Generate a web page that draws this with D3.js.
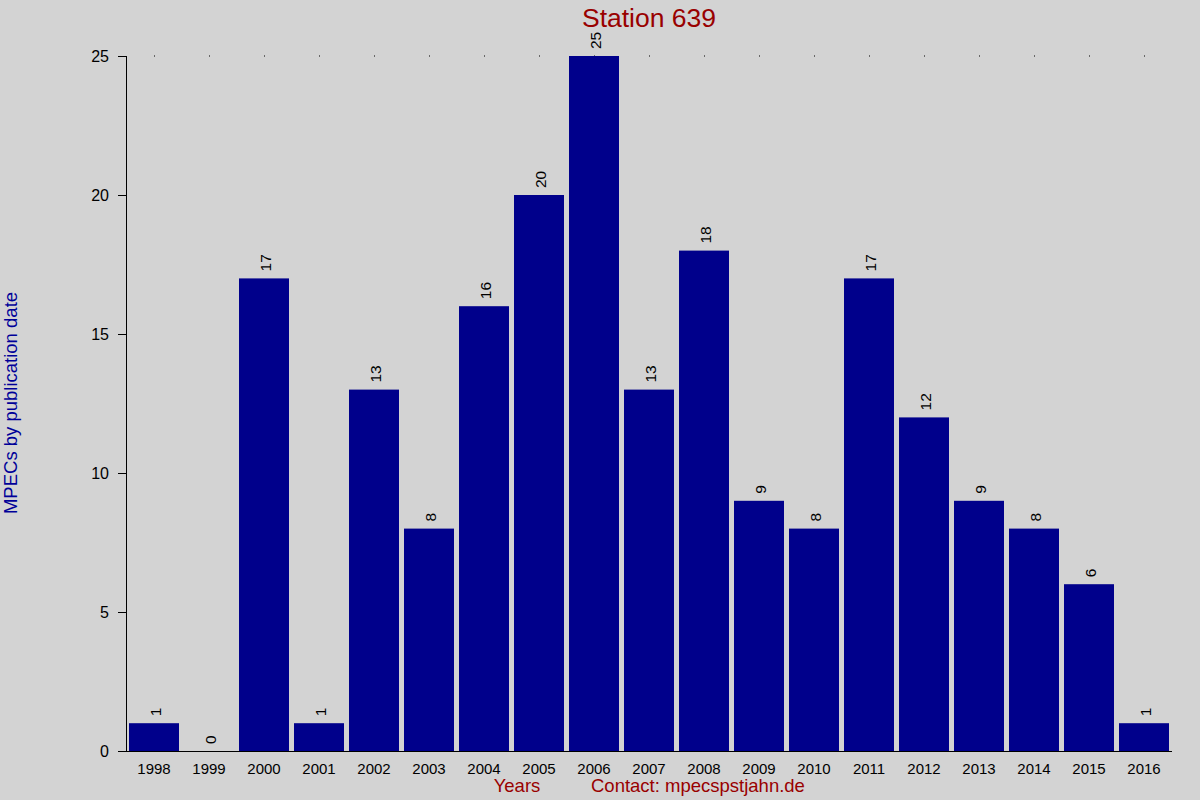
<!DOCTYPE html>
<html>
<head>
<meta charset="utf-8">
<script src="https://cdn.jsdelivr.net/npm/d3@7"></script>
<style>
body { margin: 0; background: #d3d3d3; }
svg { display: block; font-family: "Liberation Sans", Arial, sans-serif; }
</style>
</head>
<body>
<svg></svg>
<script>
var years = ['1998', '1999', '2000', '2001', '2002', '2003', '2004', '2005', '2006', '2007',
	'2008', '2009', '2010', '2011', '2012', '2013', '2014', '2015', '2016'];
var counts = [1, 0, 17, 1, 13, 8, 16, 20, 25, 13, 18, 9, 8, 17, 12, 9, 8, 6, 1];
var yTicks = [0, 5, 10, 15, 20, 25];

var width = 1200;
var height = 800;

var svg = d3.select('svg')
	.attr('width', width)
	.attr('height', height);

svg.append('rect')
	.attr('width', width)
	.attr('height', height)
	.attr('fill', '#d3d3d3');

var x = d3.scaleBand()
	.domain(years)
	.range([126.5, 1171.5])
	.paddingInner(5 / 55)
	.paddingOuter(2.5 / 55);

var y = d3.scaleLinear()
	.domain([0, 25])
	.range([751, 56]);

// dotted marks on the top line
svg.append('g')
	.selectAll('rect')
	.data(years)
	.enter().append('rect')
	.attr('x', function(d) { return Math.round(x(d) + x.bandwidth() / 2); })
	.attr('y', y(25) - 0.5)
	.attr('width', 1)
	.attr('height', 1)
	.attr('fill', '#000');

// bars
svg.append('g')
	.selectAll('rect')
	.data(counts)
	.enter().append('rect')
	.attr('x', function(d, i) { return x(years[i]); })
	.attr('y', function(d) { return y(d); })
	.attr('width', x.bandwidth())
	.attr('height', function(d) { return y(0) - y(d); })
	.attr('fill', '#00008b');

// value labels
svg.append('g')
	.selectAll('text')
	.data(counts)
	.enter().append('text')
	.attr('transform', function(d, i) {
		return `translate(${x(years[i]) + x.bandwidth() / 2 + 7},${y(d) - 7}) rotate(-90)`;
	})
	.attr('font-size', 15.5)
	.attr('fill', '#000')
	.text(function(d) { return d; });

// y axis
var yAxis = d3.axisLeft(y)
	.tickValues(yTicks)
	.tickSize(8)
	.tickPadding(9);

var gy = svg.append('g')
	.attr('transform', 'translate(126,0)')
	.call(yAxis);
gy.select('.domain').attr('d', 'M0.5,56V751.5');
gy.selectAll('.tick line').attr('stroke', '#000');
gy.selectAll('.tick text').attr('font-size', 16).attr('font-family', '"Liberation Sans", Arial, sans-serif');

// x axis
var xAxis = d3.axisBottom(x)
	.tickSize(0)
	.tickPadding(12);

var gx = svg.append('g')
	.attr('transform', 'translate(0,751)')
	.call(xAxis);
gx.select('.domain').attr('d', 'M118,0.5H1172');
gx.selectAll('.tick text').attr('font-size', 15).attr('font-family', '"Liberation Sans", Arial, sans-serif');

// title
svg.append('text')
	.attr('x', 649)
	.attr('y', 27)
	.attr('text-anchor', 'middle')
	.attr('font-size', 26.5)
	.attr('fill', '#990000')
	.text('Station 639');

// y label
svg.append('text')
	.attr('transform', 'translate(17,403) rotate(-90)')
	.attr('text-anchor', 'middle')
	.attr('font-size', 18.5)
	.attr('fill', '#000099')
	.text('MPECs by publication date');

// footer
svg.append('text')
	.attr('x', 517)
	.attr('y', 792)
	.attr('text-anchor', 'middle')
	.attr('font-size', 18.5)
	.attr('fill', '#990000')
	.text('Years');

svg.append('text')
	.attr('x', 591)
	.attr('y', 792)
	.attr('font-size', 18.5)
	.attr('fill', '#990000')
	.text('Contact: mpecspstjahn.de');
</script>
</body>
</html>
